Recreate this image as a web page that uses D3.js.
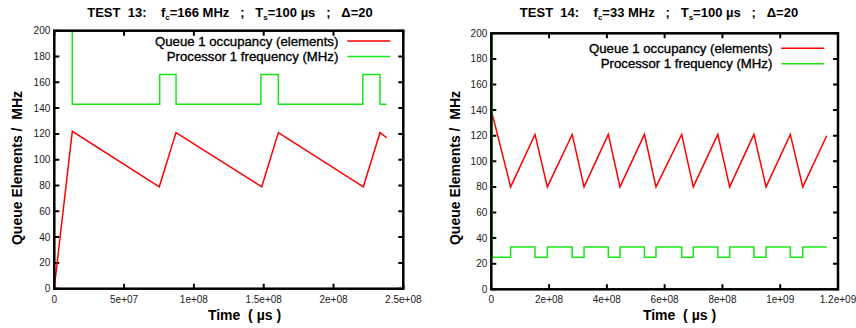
<!DOCTYPE html>
<html>
<head>
<meta charset="utf-8">
<script src="https://cdn.jsdelivr.net/npm/d3@7"></script>
<style>
  body { margin: 0; background: #fff; }
  svg { display: block; }
  .tick-label { font-family: "Liberation Sans", Arial, sans-serif; font-size: 10px; fill: #222; }
  .axis-title { font-family: "Liberation Sans", Arial, sans-serif; font-weight: bold; font-size: 14px; fill: #000; }
  .chart-title { font-family: "Liberation Sans", Arial, sans-serif; font-weight: bold; font-size: 13px; fill: #000; }
  .legend { font-family: "Liberation Sans", Arial, sans-serif; font-size: 13.2px; fill: #000; stroke: #000; stroke-width: 0.35px; }
</style>
</head>
<body>
<script>
// series names
var legendNames = ['Queue 1 occupancy (elements)', 'Processor 1 frequency (MHz)'];
var yTicks = [0, 20, 40, 60, 80, 100, 120, 140, 160, 180, 200];

// TEST 13
var t13XTicks = [0, 5e7, 1e8, 1.5e8, 2e8, 2.5e8];
var t13XLabels = ['0', '5e+07', '1e+08', '1.5e+08', '2e+08', '2.5e+08'];
var t13QueueTime = [0, 1.29e7, 7.52e7, 8.72e7, 1.486e8, 1.605e8, 2.214e8, 2.333e8, 2.381e8];
var t13QueueVal = [1, 122, 79, 121, 79, 121, 79, 121, 117];
var t13FreqTime = [1.29e7, 1.29e7, 7.55e7, 8.72e7, 1.48e8, 1.605e8, 2.21e8, 2.333e8, 2.381e8];
var t13FreqVal = [200, 143, 166, 143, 166, 143, 166, 143, 143];

// TEST 14
var t14XTicks = [0, 2e8, 4e8, 6e8, 8e8, 1e9, 1.2e9];
var t14XLabels = ['0', '2e+08', '4e+08', '6e+08', '8e+08', '1e+09', '1.2e+09'];
var t14QueueTime = [0, 6.7e7, 1.513e8, 1.94e8, 2.80e8, 3.21e8, 4.05e8, 4.455e8, 5.30e8, 5.70e8,
    6.59e8, 6.99e8, 7.84e8, 8.25e8, 9.09e8, 9.51e8, 1.035e9, 1.078e9, 1.161e9];
var t14QueueVal = [140, 80, 121, 80, 121, 80, 121, 80, 121, 80, 121, 80, 121, 80, 121, 80, 121, 80, 120];
var t14FreqTime = [0, 3e6, 6.7e7, 1.513e8, 1.94e8, 2.80e8, 3.21e8, 4.05e8, 4.455e8, 5.30e8, 5.70e8,
    6.59e8, 6.99e8, 7.84e8, 8.25e8, 9.09e8, 9.51e8, 1.035e9, 1.078e9, 1.161e9];
var t14FreqVal = [200, 25, 33, 25, 33, 25, 33, 25, 33, 25, 33, 25, 33, 25, 33, 25, 33, 25, 33, 33];

var width = 856,
    height = 328;

var svg = d3.select('body').append('svg')
    .attr('width', width)
    .attr('height', height);

function zip(a, b) {
    return a.map(function (v, i) { return [v, b[i]]; });
}

function panel(cfg) {
    var x = d3.scaleLinear().domain([0, cfg.xMax]).range([cfg.left, cfg.right]);
    var y = d3.scaleLinear().domain([0, 200]).range([cfg.bottom, cfg.top]);
    var g = svg.append('g');

    // title with subscripts
    var title = g.append('text').attr('class', 'chart-title')
        .attr('x', cfg.titleX).attr('y', 17).attr('text-anchor', 'middle')
        .attr('xml:space', 'preserve');
    title.append('tspan').text('TEST  ' + cfg.num + ':    f');
    title.append('tspan').attr('dy', 3).attr('font-size', '8px').text('c');
    title.append('tspan').attr('dy', -3).text('=' + cfg.fc + ' MHz   ;   T');
    title.append('tspan').attr('dy', 3).attr('font-size', '8px').text('s');
    title.append('tspan').attr('dy', -3).text('=100 \u00b5s   ;   \u0394=20');

    var clipId = 'clip' + cfg.num;
    g.append('clipPath').attr('id', clipId).append('rect')
        .attr('x', cfg.left).attr('y', cfg.top)
        .attr('width', cfg.right - cfg.left).attr('height', cfg.bottom - cfg.top);

    // ticks on all four sides, pointing inward
    var tl = 5;
    g.selectAll('.xt').data(cfg.xTicks).enter().append('path')
        .attr('d', function (d) {
            return 'M' + x(d) + ',' + cfg.bottom + 'v' + (-tl) + 'M' + x(d) + ',' + cfg.top + 'v' + tl;
        })
        .attr('stroke', '#000').attr('stroke-width', 2);
    g.selectAll('.yt').data(yTicks).enter().append('path')
        .attr('d', function (d) {
            return 'M' + cfg.left + ',' + y(d) + 'h' + tl + 'M' + cfg.right + ',' + y(d) + 'h' + (-tl);
        })
        .attr('stroke', '#000').attr('stroke-width', 2);

    g.selectAll('.xl').data(cfg.xTicks).enter().append('text')
        .attr('class', 'tick-label')
        .attr('x', function (d) { return x(d); })
        .attr('y', cfg.bottom + 14)
        .attr('text-anchor', 'middle')
        .text(function (d, i) { return cfg.xLabels[i]; });
    g.selectAll('.yl').data(yTicks).enter().append('text')
        .attr('class', 'tick-label')
        .attr('x', cfg.left - 4)
        .attr('y', function (d) { return y(d) + 3.5; })
        .attr('text-anchor', 'end')
        .text(function (d) { return d; });

    // axis titles
    g.append('text').attr('class', 'axis-title')
        .attr('x', cfg.xTitleX).attr('y', 320).attr('text-anchor', 'middle')
        .attr('xml:space', 'preserve')
        .text('Time  ( \u00b5s )');
    g.append('text').attr('class', 'axis-title')
        .attr('transform', 'translate(' + (cfg.yTitleX) + ',' + 168 + ') rotate(-90)')
        .attr('text-anchor', 'middle')
        .attr('xml:space', 'preserve')
        .text('Queue Elements /  MHz');

    var line = d3.line().x(function (d) { return x(d[0]); }).y(function (d) { return y(d[1]); });
    var step = d3.line().curve(d3.curveStepAfter)
        .x(function (d) { return x(d[0]); }).y(function (d) { return y(d[1]); });

    g.append('path').datum(zip(cfg.qt, cfg.qv))
        .attr('d', line).attr('fill', 'none')
        .attr('stroke', '#ff0000').attr('stroke-width', 1.5)
        .attr('clip-path', 'url(#' + clipId + ')');
    g.append('path').datum(zip(cfg.ft, cfg.fv))
        .attr('d', step).attr('fill', 'none')
        .attr('stroke', '#19e619').attr('stroke-width', 1.5)
        .attr('clip-path', 'url(#' + clipId + ')');

    // legend
    var colors = ['#ff0000', '#19e619'];
    legendNames.forEach(function (name, i) {
        var ly = cfg.legendY + i * 15.5;
        g.append('text').attr('class', 'legend')
            .attr('x', cfg.legendX).attr('y', ly + 4.5).attr('text-anchor', 'end')
            .text(name);
        g.append('line')
            .attr('x1', cfg.legendX + 9).attr('x2', cfg.legendX + 52)
            .attr('y1', ly).attr('y2', ly)
            .attr('stroke', colors[i]).attr('stroke-width', 1.5);
    });

    // frame
    g.append('rect')
        .attr('x', cfg.left).attr('y', cfg.top)
        .attr('width', cfg.right - cfg.left).attr('height', cfg.bottom - cfg.top)
        .attr('fill', 'none').attr('stroke', '#000').attr('stroke-width', 2.5);
}

panel({
    num: 13, fc: 166, xMax: 2.5e8,
    left: 54.3, right: 403.3, top: 30.7, bottom: 288.7,
    titleX: 230, xTitleX: 244.5, yTitleX: 22,
    xTicks: t13XTicks, xLabels: t13XLabels,
    qt: t13QueueTime, qv: t13QueueVal, ft: t13FreqTime, fv: t13FreqVal,
    legendX: 338.3, legendY: 41
});

panel({
    num: 14, fc: 33, xMax: 1.2e9,
    left: 491.3, right: 838, top: 33.3, bottom: 289.3,
    titleX: 659, xTitleX: 679.5, yTitleX: 460,
    xTicks: t14XTicks, xLabels: t14XLabels,
    qt: t14QueueTime, qv: t14QueueVal, ft: t14FreqTime, fv: t14FreqVal,
    legendX: 772.3, legendY: 48.3
});
</script>
</body>
</html>
